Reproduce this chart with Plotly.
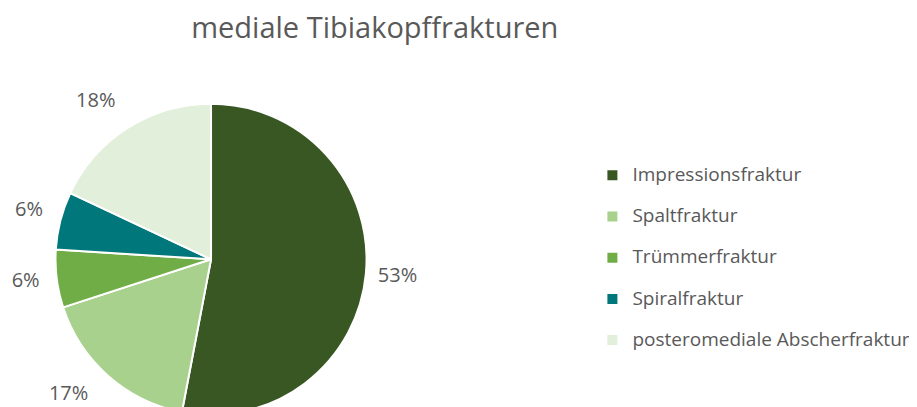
import plotly.graph_objects as go

# Daten
kategorien = ['Impressionsfraktur', 'Spaltfraktur', 'Trümmerfraktur',
              'Spiralfraktur', 'posteromediale Abscherfraktur']
anteile = [53, 17, 6, 6, 18]
farben = ['#385723', '#a9d18e', '#70ad47', '#00777a', '#e2efda']

# Leerzeile im Legendentext -> größerer Abstand zwischen den Einträgen
legenden_text = ["<span style='font-size:19px'>" + k + "</span><br> "
                 for k in kategorien]

# etwas Abstand zwischen Tortenrand und Prozentangabe (wie in Excel)
nb = '\u00a0'
leer = "<span style='font-size:6px'>" + nb + "</span>"
beschriftung = [nb + '%{percent:.0%}',
                leer + '<br>%{percent:.0%}' + nb * 2,
                '%{percent:.0%}' + nb * 2,
                '%{percent:.0%}' + nb + '<br>' + leer,
                '%{percent:.0%}<br>' + leer]

fig = go.Figure()

fig.add_trace(go.Pie(
    labels=legenden_text,
    values=anteile,
    sort=False,
    direction='clockwise',
    rotation=0,
    marker=dict(colors=farben, line=dict(color='white', width=2)),
    textposition='outside',
    texttemplate=beschriftung,
    textfont=dict(family='Open Sans', size=20, color='#595959'),
    domain=dict(x=[0.0518, 0.391], y=[0, 0.765]),
    hoverinfo='percent',
))

fig.update_layout(
    width=917, height=407,
    margin=dict(l=0, r=0, t=0, b=0, autoexpand=False),
    paper_bgcolor='white',
    font=dict(family='Open Sans', color='#595959'),
    title=dict(
        text='mediale Tibiakopffrakturen',
        font=dict(family='Open Sans', size=29, color='#595959'),
        x=0.4, xanchor='center', xref='paper',
        y=0.952, yanchor='middle', yref='container',
    ),
    legend=dict(
        x=0.6373, xanchor='left',
        y=0.362, yanchor='middle',
        font=dict(family='Open Sans', size=14.7, color='#595959'),
        valign='top',
        itemwidth=30,
    ),
)

fig.write_html("out.html")
